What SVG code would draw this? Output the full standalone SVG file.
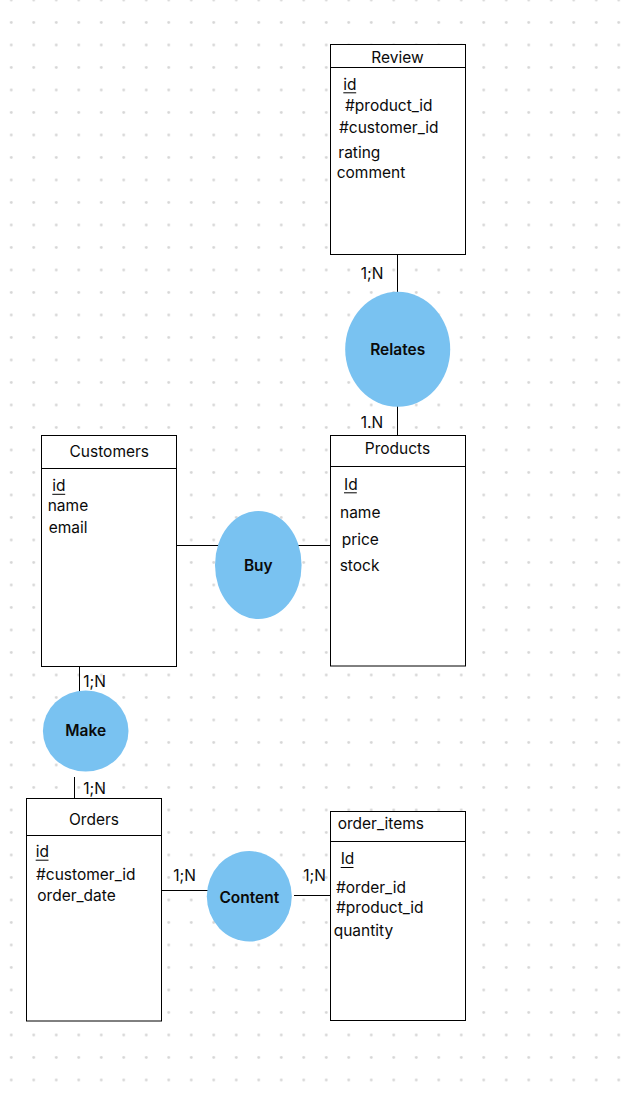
<svg xmlns="http://www.w3.org/2000/svg" width="628" height="1098" viewBox="0 0 628 1098">
<defs>
<pattern id="dots" x="0" y="-11.25" width="22.5" height="22.5" patternUnits="userSpaceOnUse">
<circle cx="11.25" cy="11.25" r="1.4" fill="#d6d6d6"/>
</pattern>
<style>
text{font-family:Inter,"Liberation Sans",sans-serif;font-size:15.5px;fill:#0a0a0a}
.t{text-anchor:middle}
.rel{font-weight:600;text-anchor:middle;fill:#0a0a0a}
.box{fill:#fff;stroke:#000;stroke-width:1}
.ln{stroke:#000;stroke-width:1;fill:none}
.ell{fill:#79c2f1;stroke:none}
</style>
</defs>
<rect width="628" height="1098" fill="#fff"/>
<rect width="628" height="1098" fill="url(#dots)"/>

<g id="connectors">
<line class="ln" x1="397.5" y1="255" x2="397.5" y2="293"/>
<line class="ln" x1="397.5" y1="406" x2="397.5" y2="435"/>
<line class="ln" x1="177" y1="545.5" x2="222" y2="545.5"/>
<line class="ln" x1="296" y1="545.5" x2="330" y2="545.5"/>
<line class="ln" x1="79.5" y1="666.5" x2="79.5" y2="692"/>
<line class="ln" x1="74.5" y1="777" x2="74.5" y2="801"/>
<line class="ln" x1="161.5" y1="890.5" x2="208" y2="890.5"/>
<line class="ln" x1="294" y1="895.5" x2="330" y2="895.5"/>
<text x="360.7" y="279.3">1;N</text>
<text x="360.7" y="428.3">1.N</text>
<text x="83.3" y="686.7">1;N</text>
<text x="83.3" y="794.3">1;N</text>
<text x="173.3" y="881">1;N</text>
<text x="303.3" y="881">1;N</text>
</g>

<g id="review">
<rect class="box" x="330.5" y="44.5" width="135" height="210"/>
<line class="ln" x1="330.5" y1="67.5" x2="465.5" y2="67.5"/>
<text class="t" x="397.5" y="63">Review</text>
<text x="343.3" y="90">id</text>
<line class="ln" x1="343.3" y1="92.8" x2="356.2" y2="92.8"/>
<text x="345" y="111">#product_id</text>
<text x="339" y="133">#customer_id</text>
<text x="338.3" y="158">rating</text>
<text x="336.7" y="178">comment</text>
</g>

<g id="relates">
<ellipse class="ell" cx="397.7" cy="349.3" rx="52.5" ry="57.5"/>
<text class="rel" x="397.7" y="355">Relates</text>
</g>

<g id="customers">
<rect class="box" x="41.5" y="435.5" width="135" height="231"/>
<line class="ln" x1="41.5" y1="468.5" x2="176.5" y2="468.5"/>
<text class="t" x="109.3" y="456.7">Customers</text>
<text x="52.3" y="490.7">id</text>
<line class="ln" x1="52.3" y1="494.3" x2="65.2" y2="494.3"/>
<text x="47.7" y="510.7">name</text>
<text x="48.7" y="532.7">email</text>
</g>

<g id="buy">
<ellipse class="ell" cx="258.3" cy="565" rx="43.3" ry="54"/>
<text class="rel" x="258.3" y="570.7">Buy</text>
</g>

<g id="products">
<rect class="box" x="330.5" y="435.5" width="135" height="230.5"/>
<line class="ln" x1="330.5" y1="466.5" x2="465.5" y2="466.5"/>
<text class="t" x="397.5" y="454">Products</text>
<text x="344" y="490">Id</text>
<line class="ln" x1="344" y1="492.8" x2="356.8" y2="492.8"/>
<text x="340" y="518.3">name</text>
<text x="341.7" y="544.5">price</text>
<text x="339.7" y="570.7">stock</text>
</g>

<g id="make">
<ellipse class="ell" cx="85.7" cy="731" rx="42.8" ry="40.5"/>
<text class="rel" x="85.7" y="736">Make</text>
</g>

<g id="orders">
<rect class="box" x="26.5" y="798.5" width="135" height="222.5"/>
<line class="ln" x1="26.5" y1="835.5" x2="161.5" y2="835.5"/>
<text class="t" x="94" y="825">Orders</text>
<text x="35.7" y="856.7">id</text>
<line class="ln" x1="35.7" y1="860.2" x2="48.5" y2="860.2"/>
<text x="36" y="880">#customer_id</text>
<text x="37.3" y="901">order_date</text>
</g>

<g id="content">
<ellipse class="ell" cx="249.3" cy="896.3" rx="42.5" ry="45.2"/>
<text class="rel" x="249.3" y="902.7">Content</text>
</g>

<g id="order_items">
<rect class="box" x="330.5" y="811.5" width="135" height="209"/>
<line class="ln" x1="330.5" y1="841.5" x2="465.5" y2="841.5"/>
<text x="337.7" y="829.3">order_items</text>
<text x="340.7" y="864">Id</text>
<line class="ln" x1="340.7" y1="867.5" x2="353.5" y2="867.5"/>
<text x="336" y="893.3">#order_id</text>
<text x="336" y="913.3">#product_id</text>
<text x="333.7" y="936">quantity</text>
</g>
</svg>
